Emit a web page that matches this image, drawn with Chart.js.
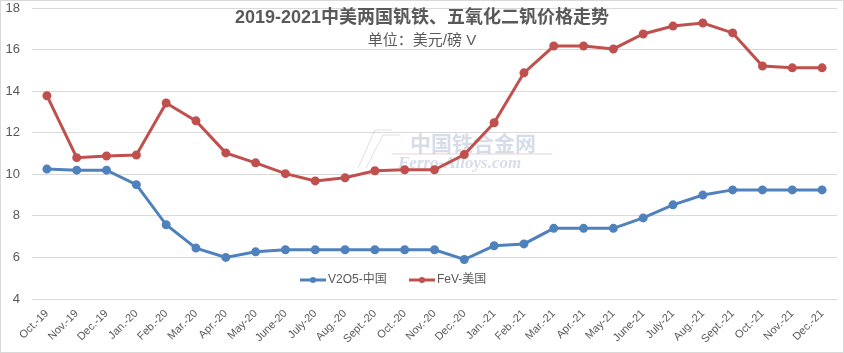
<!DOCTYPE html>
<html lang="zh">
<head>
    <meta charset="UTF-8">
    <title>2019-2021中美两国钒铁、五氧化二钒价格走势</title>
    <script src="https://cdn.jsdelivr.net/npm/chart.js"></script>
    <style>
        body { margin: 0; background: #fff; }
        #chartContainer { width: 844px; height: 353px; }
    </style>
</head>
<body>

<div id="chartContainer">
    <canvas id="priceCanvas" width="844" height="353"></canvas>
</div>

<script type="text/javascript">
    // Month labels on the x axis
    var months = ['Oct.-19', 'Nov.-19', 'Dec.-19', 'Jan.-20', 'Feb.-20', 'Mar.-20', 'Apr.-20', 'May-20',
        'June-20', 'July-20', 'Aug.-20', 'Sept.-20', 'Oct.-20', 'Nov.-20', 'Dec.-20', 'Jan.-21',
        'Feb.-21', 'Mar.-21', 'Apr.-21', 'May-21', 'June-21', 'July-21', 'Aug.-21', 'Sept.-21',
        'Oct.-21', 'Nov.-21', 'Dec.-21'];

    // V2O5 China, USD/lb V
    var v2o5China = [10.25, 10.2, 10.2, 9.5, 7.57, 6.45, 6.0, 6.27, 6.37, 6.37, 6.37, 6.37, 6.37, 6.37,
        5.9, 6.56, 6.65, 7.4, 7.4, 7.4, 7.9, 8.53, 9.0, 9.25, 9.25, 9.25, 9.25];

    // FeV USA, USD/lb V
    var fevUsa = [13.78, 10.8, 10.88, 10.93, 13.43, 12.57, 11.03, 10.55, 10.03, 9.68, 9.83, 10.17, 10.22,
        10.22, 10.95, 12.48, 14.88, 16.17, 16.17, 16.03, 16.75, 17.13, 17.28, 16.8, 15.21, 15.12, 15.12];

    var titleText = '2019-2021中美两国钒铁、五氧化二钒价格走势';
    var subtitleText = '单位：美元/磅 V';

    var blue = '#4F81BD';
    var red = '#C0504D';
    var textColor = '#595959';

    // Excel-style overlay: border, title, legend and watermark drawn over the plot area
    var overlayPlugin = {
        id: 'overlay',
        beforeDatasetsDraw: function(chart) {
            var ctx = chart.ctx;
            ctx.save();
            // watermark
            ctx.globalAlpha = 0.35;
            ctx.fillStyle = '#8a9bbd';
            ctx.font = 'bold 21px "Noto Sans CJK SC"';
            ctx.textAlign = 'left';
            ctx.textBaseline = 'middle';
            ctx.fillText('中国铁合金网', 410, 143);
            ctx.font = 'italic bold 17px "Liberation Serif"';
            ctx.fillText('Ferro-Alloys.com', 398, 164);
            ctx.strokeStyle = '#c08080';
            ctx.lineWidth = 1;
            ctx.beginPath();
            ctx.moveTo(392, 154);
            ctx.lineTo(552, 154);
            ctx.stroke();
            ctx.strokeStyle = '#9aa6bb';
            ctx.beginPath();
            ctx.moveTo(358, 168);
            ctx.lineTo(375, 130);
            ctx.lineTo(392, 130);
            ctx.moveTo(366, 168);
            ctx.lineTo(383, 135);
            ctx.lineTo(400, 135);
            ctx.stroke();
            ctx.restore();
        },
        afterDraw: function(chart) {
            var ctx = chart.ctx;
            ctx.save();
            // outer border
            ctx.strokeStyle = '#d9d9d9';
            ctx.lineWidth = 1;
            ctx.strokeRect(0.5, 0.5, chart.width - 1, chart.height - 1);

            // title
            ctx.fillStyle = textColor;
            ctx.textAlign = 'center';
            ctx.textBaseline = 'middle';
            ctx.font = 'bold 18px "Liberation Sans", "Noto Sans CJK SC"';
            ctx.fillText(titleText, 422, 18);
            ctx.font = '15px "Liberation Sans", "Noto Sans CJK SC"';
            ctx.fillText(subtitleText, 422, 41);

            // legend
            var items = [
                { label: 'V2O5-中国', color: blue, x: 300 },
                { label: 'FeV-美国', color: red, x: 409 }
            ];
            var ly = 280;
            items.forEach(function(it) {
                ctx.strokeStyle = it.color;
                ctx.lineWidth = 3;
                ctx.beginPath();
                ctx.moveTo(it.x, ly);
                ctx.lineTo(it.x + 26, ly);
                ctx.stroke();
                ctx.fillStyle = it.color;
                ctx.beginPath();
                ctx.arc(it.x + 13, ly, 3, 0, Math.PI * 2);
                ctx.fill();
                ctx.fillStyle = textColor;
                ctx.textAlign = 'left';
                ctx.font = '12px "Liberation Sans", "Noto Sans CJK SC"';
                ctx.fillText(it.label, it.x + 28, ly);
            });
            ctx.restore();
        }
    };

    var ctx = document.getElementById('priceCanvas').getContext('2d');
    new Chart(ctx, {
        type: 'line',
        data: {
            labels: months,
            datasets: [{
                label: 'V2O5-中国',
                data: v2o5China,
                borderColor: blue,
                backgroundColor: blue,
                borderWidth: 3,
                pointRadius: 3,
                pointHoverRadius: 4,
                tension: 0
            }, {
                label: 'FeV-美国',
                data: fevUsa,
                borderColor: red,
                backgroundColor: red,
                borderWidth: 3,
                pointRadius: 3,
                pointHoverRadius: 4,
                tension: 0
            }]
        },
        options: {
            responsive: false,
            animation: false,
            layout: { padding: { left: 0, right: 7, top: 8, bottom: 0 } },
            plugins: {
                legend: { display: false },
                title: { display: false },
                tooltip: { enabled: false }
            },
            scales: {
                x: {
                    offset: true,
                    grid: { display: false },
                    border: { display: false },
                    ticks: {
                        autoSkip: false,
                        maxRotation: 45,
                        minRotation: 45,
                        color: textColor,
                        font: { family: '"Liberation Sans"', size: 11 },
                        padding: 0
                    },
                    afterFit: function(scale) {
                        scale.height = 54;
                        scale.paddingLeft = 0;
                        scale.paddingRight = 0;
                    }
                },
                y: {
                    min: 4,
                    max: 18,
                    ticks: {
                        stepSize: 2,
                        color: textColor,
                        font: { family: '"Liberation Sans"', size: 13 },
                        padding: 12
                    },
                    grid: { color: '#d9d9d9', drawTicks: false },
                    border: { display: false },
                    afterFit: function(scale) {
                        scale.width = 32;
                        scale.paddingTop = 0;
                        scale.paddingBottom = 0;
                    }
                }
            }
        },
        plugins: [overlayPlugin]
    });
</script>

</body>
</html>
